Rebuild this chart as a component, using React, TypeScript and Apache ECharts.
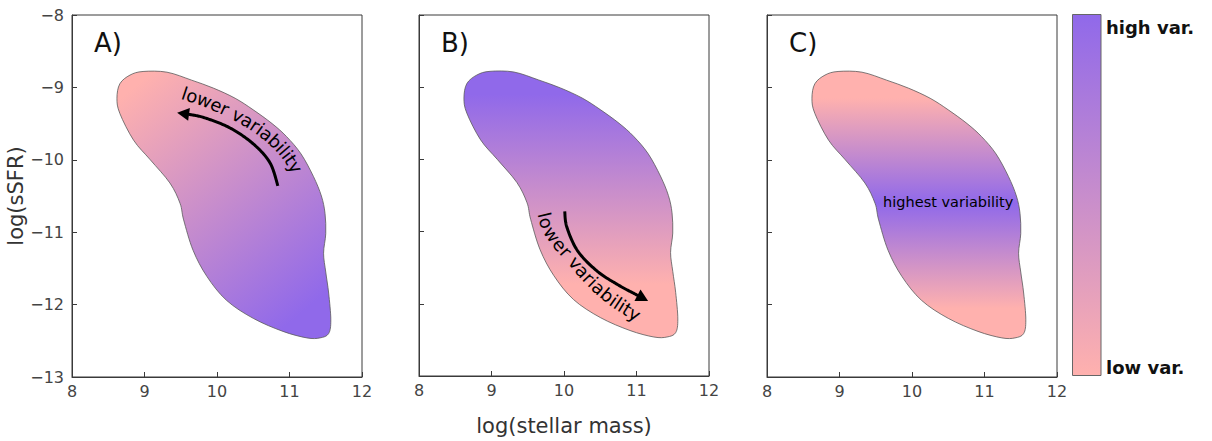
import React, { useEffect, useRef } from "react";
import * as echarts from "echarts";

// Axis ranges shared by the three panels
const MASS_RANGE: [number, number] = [8, 12];
const SSFR_RANGE: [number, number] = [-13, -8];
const PANEL_TAGS = ["A)", "B)", "C)"];

// Star-forming galaxy population in the (log M*, log sSFR) plane, traced clockwise
const OUTLINE: [number, number][] = [
  [8.66, -8.95], [8.8, -8.83], [8.98, -8.78], [9.31, -8.79], [9.65, -8.9],
  [9.95, -9.01], [10.25, -9.15], [10.5, -9.31], [10.76, -9.5], [10.96, -9.68],
  [11.16, -9.92], [11.33, -10.23], [11.44, -10.5], [11.49, -10.74], [11.5, -11.02],
  [11.47, -11.29], [11.5, -11.55], [11.54, -11.84], [11.57, -12.21], [11.54, -12.4],
  [11.42, -12.46], [11.24, -12.46], [10.91, -12.37], [10.5, -12.19], [10.13, -11.94],
  [9.86, -11.61], [9.67, -11.25], [9.54, -10.83], [9.49, -10.6], [9.35, -10.32],
  [9.08, -10.0], [8.85, -9.73], [8.66, -9.36], [8.62, -9.15],
];

// Variability scale end colours
const LOW_VAR = "#FFB1AE";
const HIGH_VAR = "#9069EA";

// Colour anchors for each panel, in data coordinates
const GRAD_A: [number, number][] = [[8.73, -9.1], [11.21, -12.08]]; // low -> high
const GRAD_B_SSFR = [-9.1, -11.73]; // high -> low
const GRAD_C_SSFR = [-9.15, -10.6, -12.05]; // low -> high -> low

// Arrows (last point is the tip)
const ARROW_A: [number, number][] = [
  [10.84, -10.36], [10.73, -10.04], [10.5, -9.78], [10.18, -9.56],
  [9.83, -9.42], [9.6, -9.37], [9.45, -9.35],
];
const ARROW_B: [number, number][] = [
  [10.01, -10.72], [10.04, -10.94], [10.19, -11.27], [10.46, -11.55],
  [10.75, -11.74], [10.99, -11.87], [11.16, -11.96],
];

// Paths followed by the curved labels
const LABEL_PATH_A: [number, number][] = [
  [9.46, -9.05], [9.81, -9.17], [10.12, -9.3], [10.39, -9.44],
  [10.62, -9.59], [10.83, -9.77], [11.01, -9.98], [11.15, -10.22],
];
const LABEL_PATH_B: [number, number][] = [
  [9.71, -10.69], [9.78, -10.94], [9.92, -11.15], [10.11, -11.37],
  [10.36, -11.66], [10.63, -11.91], [10.88, -12.08], [11.08, -12.2],
];
const LABEL_LOWER = "lower variability";
const LABEL_HIGHEST = "highest variability";
const HIGHEST_POS: [number, number] = [10.5, -10.58];

const FONT = "DejaVu Sans";
const AXIS_COLOR = "#3a3a3a";
const GRID_LEFTS = [72, 419, 767];
const GRID_TOP = 15;
const GRID_W = 290;
const GRID_H = 362;

type Pt = [number, number];

function crPoint(p0: Pt, p1: Pt, p2: Pt, p3: Pt, t: number): Pt {
  const t2 = t * t;
  const t3 = t2 * t;
  const f = (a: number, b: number, c: number, d: number) =>
    0.5 * (2 * b + (-a + c) * t + (2 * a - 5 * b + 4 * c - d) * t2 + (-a + 3 * b - 3 * c + d) * t3);
  return [f(p0[0], p1[0], p2[0], p3[0]), f(p0[1], p1[1], p2[1], p3[1])];
}

function sampleOpen(pts: Pt[], steps = 16): Pt[] {
  const out: Pt[] = [];
  for (let i = 0; i < pts.length - 1; i++) {
    const p0 = pts[Math.max(i - 1, 0)];
    const p3 = pts[Math.min(i + 2, pts.length - 1)];
    for (let k = 0; k < steps; k++) out.push(crPoint(p0, pts[i], pts[i + 1], p3, k / steps));
  }
  out.push(pts[pts.length - 1]);
  return out;
}

function closedPath(pts: Pt[]): string {
  const n = pts.length;
  let d = `M${pts[0][0]},${pts[0][1]}`;
  for (let i = 0; i < n; i++) {
    const p0 = pts[(i - 1 + n) % n];
    const p1 = pts[i];
    const p2 = pts[(i + 1) % n];
    const p3 = pts[(i + 2) % n];
    const c1 = [p1[0] + (p2[0] - p0[0]) / 6, p1[1] + (p2[1] - p0[1]) / 6];
    const c2 = [p2[0] - (p3[0] - p1[0]) / 6, p2[1] - (p3[1] - p1[1]) / 6];
    d += ` C${c1[0]},${c1[1]} ${c2[0]},${c2[1]} ${p2[0]},${p2[1]}`;
  }
  return d + " Z";
}

function cumulative(pts: Pt[]): number[] {
  const acc = [0];
  for (let i = 1; i < pts.length; i++) {
    acc.push(acc[i - 1] + Math.hypot(pts[i][0] - pts[i - 1][0], pts[i][1] - pts[i - 1][1]));
  }
  return acc;
}

function pointAt(pts: Pt[], acc: number[], s: number): { p: Pt; ang: number } {
  let i = 1;
  while (i < acc.length - 1 && acc[i] < s) i++;
  const a = pts[i - 1];
  const b = pts[i];
  const seg = acc[i] - acc[i - 1] || 1;
  const t = (s - acc[i - 1]) / seg;
  return {
    p: [a[0] + (b[0] - a[0]) * t, a[1] + (b[1] - a[1]) * t],
    ang: Math.atan2(b[1] - a[1], b[0] - a[0]),
  };
}

let measureCtx: CanvasRenderingContext2D | null = null;
function charWidth(ch: string, font: string): number {
  if (!measureCtx) measureCtx = document.createElement("canvas").getContext("2d");
  measureCtx!.font = font;
  return measureCtx!.measureText(ch).width;
}

function arrowElements(px: Pt[]): any[] {
  const curve = sampleOpen(px, 20);
  const acc = cumulative(curve);
  const total = acc[acc.length - 1];
  const headLen = 12;
  const halfW = 6.5;
  const tip = curve[curve.length - 1];
  const base = pointAt(curve, acc, total - headLen).p;
  const dx = tip[0] - base[0];
  const dy = tip[1] - base[1];
  const len = Math.hypot(dx, dy) || 1;
  const nx = -dy / len;
  const ny = dx / len;
  const shaft = curve.filter((_, i) => acc[i] <= total - headLen + 1);
  return [
    {
      type: "polyline",
      shape: { points: shaft },
      style: { stroke: "#000", lineWidth: 3, fill: null, lineCap: "butt" },
    },
    {
      type: "polygon",
      shape: {
        points: [tip, [base[0] + nx * halfW, base[1] + ny * halfW], [base[0] - nx * halfW, base[1] - ny * halfW]],
      },
      style: { fill: "#000" },
    },
  ];
}

function textOnPath(text: string, px: Pt[], fontSize: number): any[] {
  const curve = sampleOpen(px, 20);
  const acc = cumulative(curve);
  const total = acc[acc.length - 1];
  const font = `${fontSize}px "${FONT}"`;
  const widths = text.split("").map((c) => charWidth(c, font));
  const textLen = widths.reduce((a, b) => a + b, 0);
  let s = (total - textLen) / 2;
  const els: any[] = [];
  text.split("").forEach((ch, i) => {
    const { p, ang } = pointAt(curve, acc, s + widths[i] / 2);
    s += widths[i];
    if (ch === " ") return;
    els.push({
      type: "text",
      x: p[0],
      y: p[1],
      rotation: -ang,
      style: {
        text: ch,
        fontSize,
        fontFamily: FONT,
        fill: "#000",
        align: "center",
        verticalAlign: "middle",
      },
    });
  });
  return els;
}

function makeRenderer(panel: number) {
  return (_params: any, api: any) => {
    const coord = (p: Pt): Pt => api.coord(p) as Pt;
    const outlinePx = OUTLINE.map(coord);
    let fill: any;
    if (panel === 0) {
      const a = coord(GRAD_A[0]);
      const b = coord(GRAD_A[1]);
      fill = new echarts.graphic.LinearGradient(a[0], a[1], b[0], b[1], [
        { offset: 0, color: LOW_VAR },
        { offset: 1, color: HIGH_VAR },
      ], true);
    } else if (panel === 1) {
      const a = coord([10, GRAD_B_SSFR[0]]);
      const b = coord([10, GRAD_B_SSFR[1]]);
      fill = new echarts.graphic.LinearGradient(a[0], a[1], b[0], b[1], [
        { offset: 0, color: HIGH_VAR },
        { offset: 1, color: LOW_VAR },
      ], true);
    } else {
      const a = coord([10, GRAD_C_SSFR[0]]);
      const m = coord([10, GRAD_C_SSFR[1]]);
      const b = coord([10, GRAD_C_SSFR[2]]);
      fill = new echarts.graphic.LinearGradient(a[0], a[1], b[0], b[1], [
        { offset: 0, color: LOW_VAR },
        { offset: (m[1] - a[1]) / (b[1] - a[1]), color: HIGH_VAR },
        { offset: 1, color: LOW_VAR },
      ], true);
    }
    const children: any[] = [
      {
        type: "path",
        shape: { pathData: closedPath(outlinePx) },
        style: { fill, stroke: "#5a5a5a", lineWidth: 0.8 },
      },
    ];
    if (panel === 0) {
      children.push(...arrowElements(ARROW_A.map(coord)));
      children.push(...textOnPath(LABEL_LOWER, LABEL_PATH_A.map(coord), 18));
    } else if (panel === 1) {
      children.push(...arrowElements(ARROW_B.map(coord)));
      children.push(...textOnPath(LABEL_LOWER, LABEL_PATH_B.map(coord), 18));
    } else {
      const p = coord(HIGHEST_POS);
      children.push({
        type: "text",
        x: p[0],
        y: p[1],
        style: {
          text: LABEL_HIGHEST,
          fontSize: 14.5,
          fontFamily: FONT,
          fill: "#000",
          align: "center",
          verticalAlign: "middle",
        },
      });
    }
    return { type: "group", children };
  };
}

const minusFmt = (v: number) => (v < 0 ? "\u2212" + Math.abs(v) : String(v));

export default function App() {
  const ref = useRef<HTMLDivElement>(null);

  useEffect(() => {
    if (!ref.current) return;
    const chart = echarts.init(ref.current, null, { renderer: "svg" });

    const grids = GRID_LEFTS.map((left) => ({
      left,
      top: GRID_TOP,
      width: GRID_W,
      height: GRID_H,
      show: true,
      borderColor: AXIS_COLOR,
      borderWidth: 1,
      backgroundColor: "transparent",
    }));

    const xAxes = GRID_LEFTS.map((_, i) => ({
      gridIndex: i,
      type: "value",
      min: MASS_RANGE[0],
      max: MASS_RANGE[1],
      interval: 1,
      name: i === 1 ? "log(stellar mass)" : "",
      nameLocation: "middle",
      nameGap: 39,
      nameTextStyle: { fontSize: 21, color: "#333", fontFamily: FONT },
      axisLine: { show: true, onZero: false, lineStyle: { color: AXIS_COLOR, width: 1 } },
      axisTick: { show: true, inside: true, length: 5, lineStyle: { color: AXIS_COLOR } },
      axisLabel: { fontSize: 16, color: "#444", fontFamily: FONT, margin: 6 },
      splitLine: { show: false },
    }));

    const yAxes = GRID_LEFTS.map((_, i) => ({
      gridIndex: i,
      type: "value",
      min: SSFR_RANGE[0],
      max: SSFR_RANGE[1],
      interval: 1,
      name: i === 0 ? "log(sSFR)" : "",
      nameLocation: "middle",
      nameGap: 42,
      nameTextStyle: { fontSize: 21, color: "#333", fontFamily: FONT },
      axisLine: { show: true, onZero: false, lineStyle: { color: AXIS_COLOR, width: 1 } },
      axisTick: { show: true, inside: true, length: 5, lineStyle: { color: AXIS_COLOR } },
      axisLabel: {
        show: i === 0,
        fontSize: 16,
        color: "#444",
        fontFamily: FONT,
        margin: 8,
        formatter: minusFmt,
      },
      splitLine: { show: false },
    }));

    const series = GRID_LEFTS.map((_, i) => ({
      type: "custom",
      xAxisIndex: i,
      yAxisIndex: i,
      coordinateSystem: "cartesian2d",
      data: [[10, -10.5]],
      renderItem: makeRenderer(i),
      silent: true,
      clip: false,
    }));

    const graphic: any[] = PANEL_TAGS.map((tag, i) => ({
      type: "text",
      x: GRID_LEFTS[i] + 22,
      y: 43,
      style: {
        text: tag,
        fontSize: 26,
        fontFamily: FONT,
        fill: "#111",
        verticalAlign: "middle",
      },
    }));

    // Colour bar for the variability scale
    graphic.push({
      type: "rect",
      shape: { x: 1072.5, y: 14.5, width: 28.5, height: 361 },
      style: {
        fill: new echarts.graphic.LinearGradient(0, 0, 0, 1, [
          { offset: 0, color: HIGH_VAR },
          { offset: 1, color: LOW_VAR },
        ]),
        stroke: "#666",
        lineWidth: 1,
      },
    });
    graphic.push({
      type: "text",
      x: 1106,
      y: 27,
      style: { text: "high var.", fontSize: 18, fontWeight: "bold", fontFamily: FONT, fill: "#111", verticalAlign: "middle" },
    });
    graphic.push({
      type: "text",
      x: 1106,
      y: 367,
      style: { text: "low var.", fontSize: 18, fontWeight: "bold", fontFamily: FONT, fill: "#111", verticalAlign: "middle" },
    });

    chart.setOption({
      animation: false,
      backgroundColor: "#fff",
      grid: grids,
      xAxis: xAxes,
      yAxis: yAxes,
      series,
      graphic,
    });

    return () => chart.dispose();
  }, []);

  return (
    <div
      ref={ref}
      style={{ position: "absolute", left: 0, top: 0, width: 1212, height: 441 }}
    />
  );
}
